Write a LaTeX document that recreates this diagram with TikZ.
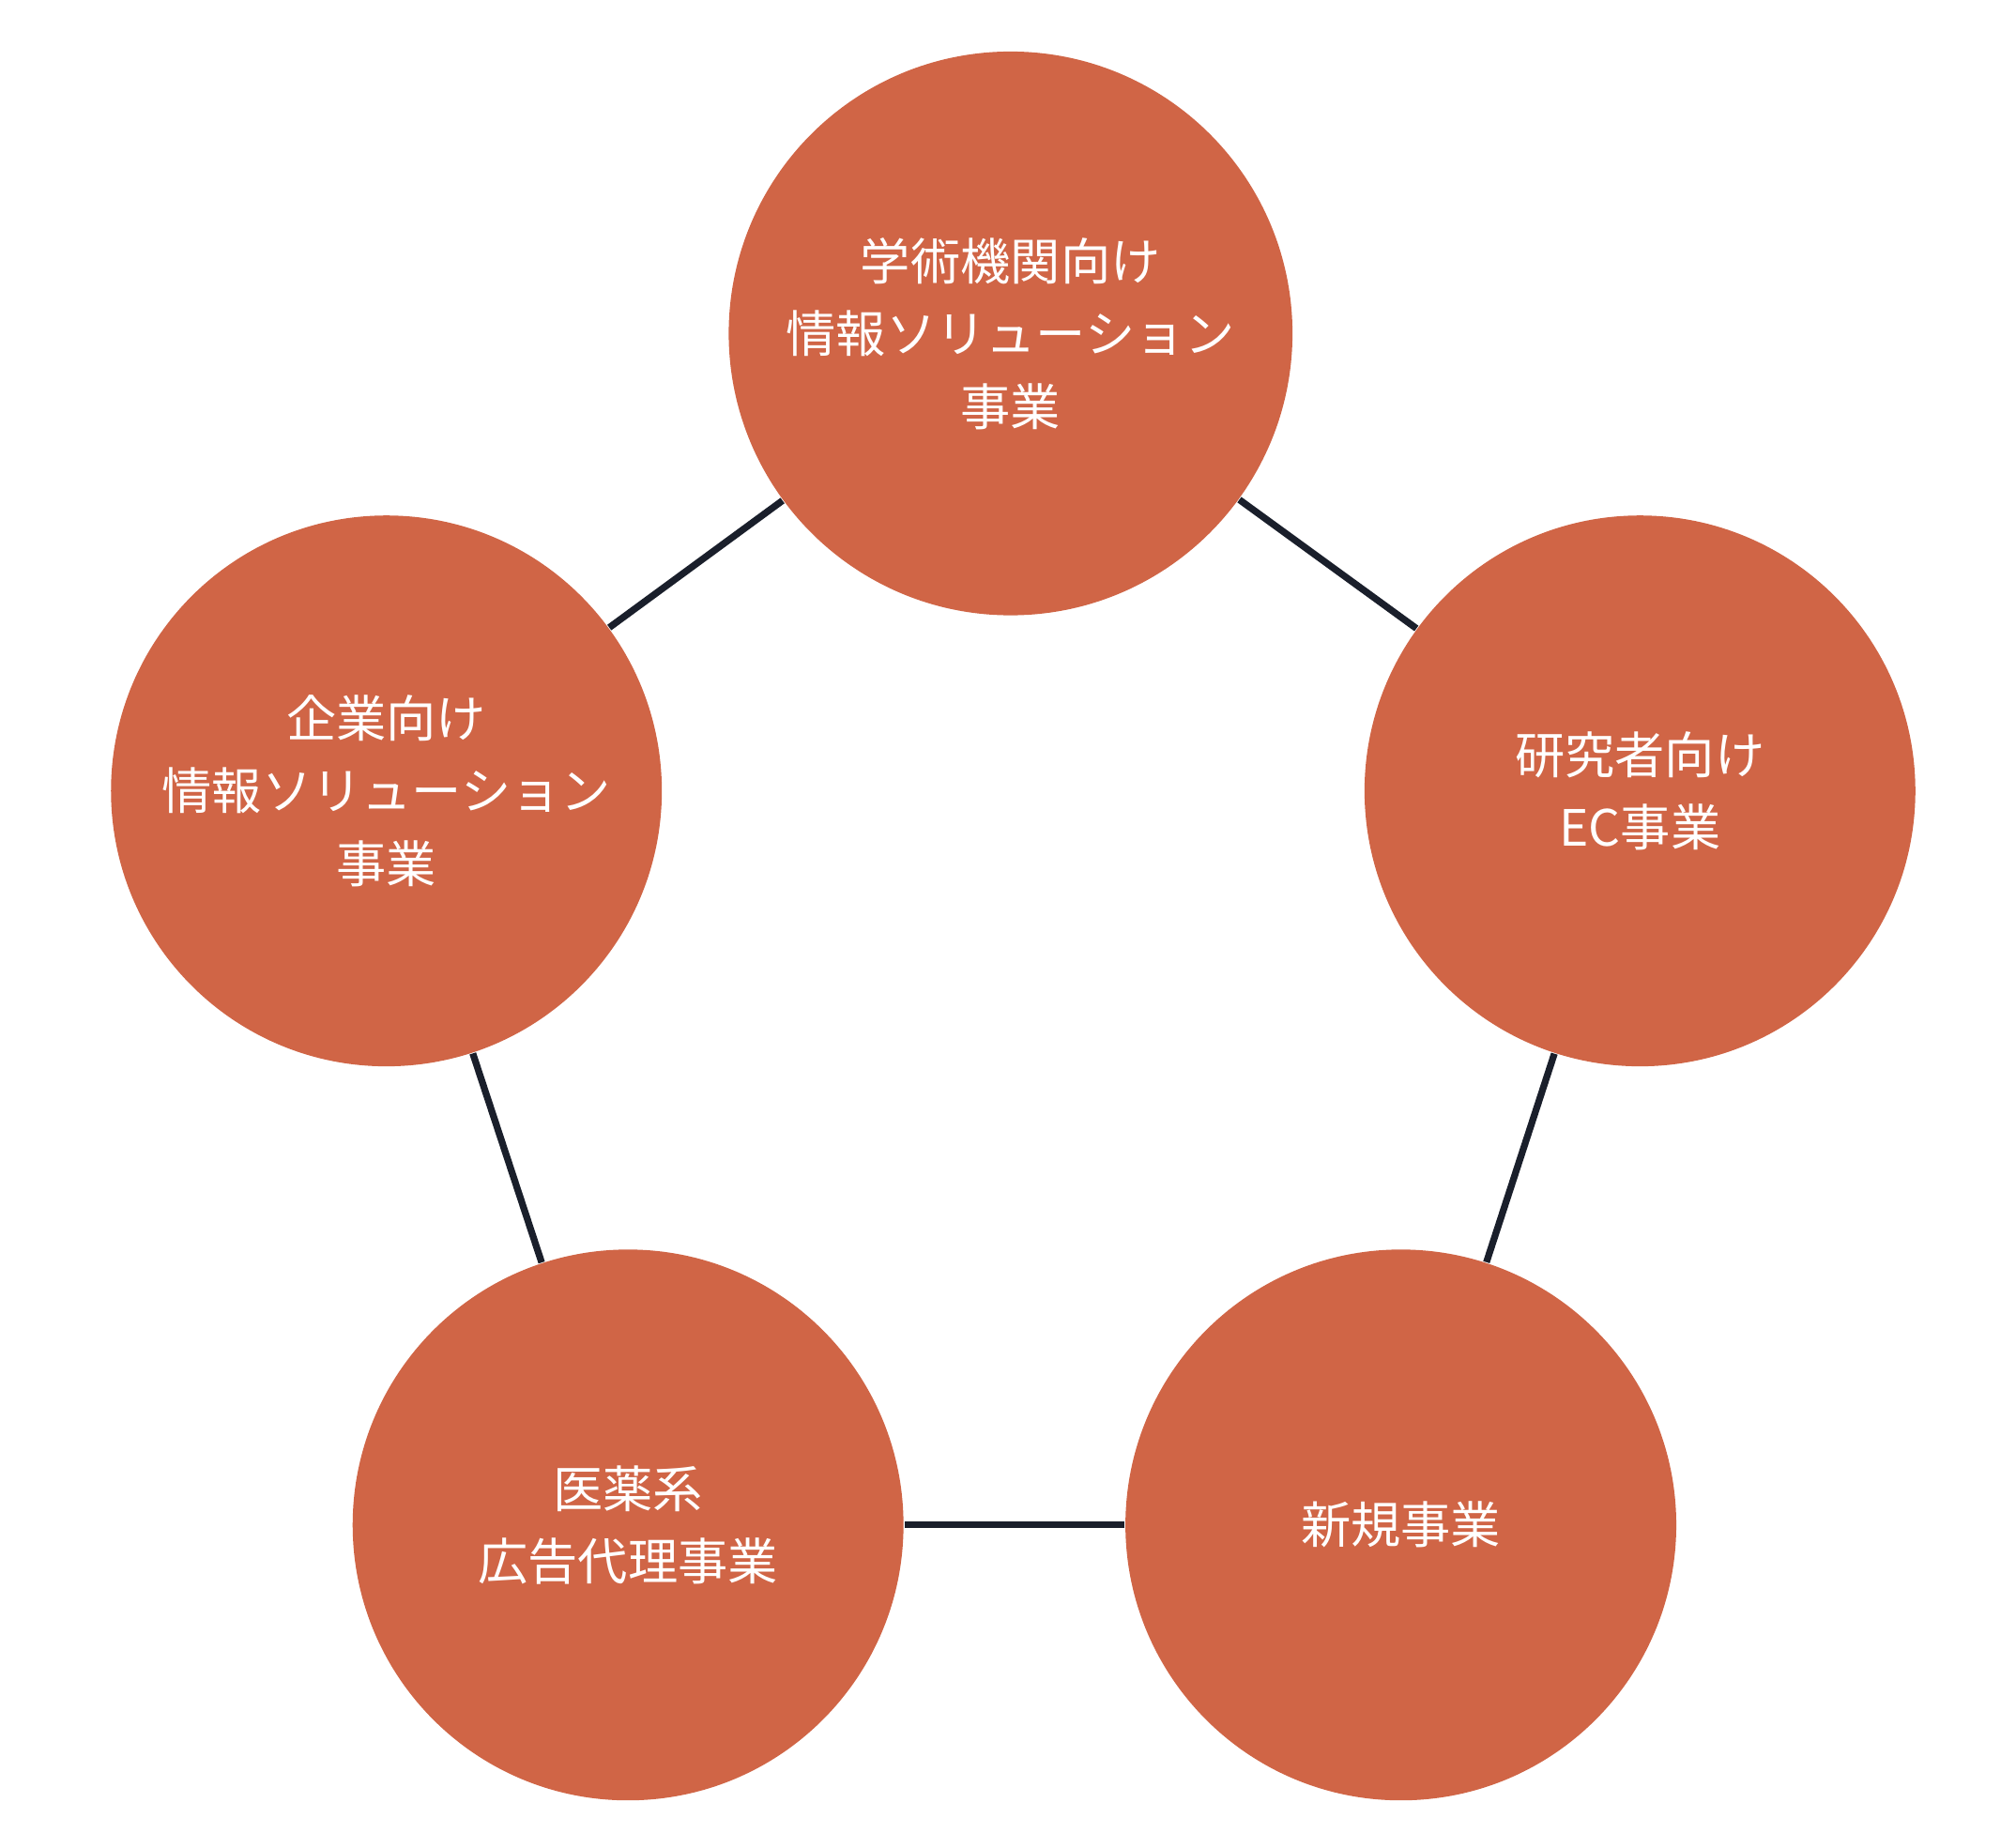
\documentclass[tikz,border=0pt]{standalone}
\usepackage{fontspec}
\newfontfamily\cjk{Noto Sans CJK JP}
\definecolor{bizfill}{RGB}{208,101,70}
\definecolor{bizline}{RGB}{26,31,43}
\tikzset{
  biz/.style={circle,fill=bizfill,draw=none,text=white,align=center,
    font=\cjk\fontsize{11pt}{16pt}\selectfont},
  link/.style={draw=bizline,line width=1.5pt}
}
\begin{document}
\begin{tikzpicture}[x=0.01cm,y=-0.01cm]
\useasboundingbox (0,0) rectangle (1560,1418);
% business units
\node[biz,minimum size=4.36cm] (acad) at (782,258) {学術機関向け\\情報ソリューション\\事業};
\node[biz,minimum size=4.26cm] (ec) at (1269,612) {研究者向け\\EC事業};
\node[biz,minimum size=4.26cm] (new) at (1084,1180) {新規事業};
\node[biz,minimum size=4.26cm] (pharma) at (486,1180) {医薬系\\広告代理事業};
\node[biz,minimum size=4.26cm] (corp) at (299,612) {企業向け\\情報ソリューション\\事業};
% links
\begin{scope}[on background layer/.try]
\end{scope}
\path[link] (acad) -- (ec);
\path[link] (ec) -- (new);
\path[link] (new) -- (pharma);
\path[link] (pharma) -- (corp);
\path[link] (corp) -- (acad);
\end{tikzpicture}
\end{document}
